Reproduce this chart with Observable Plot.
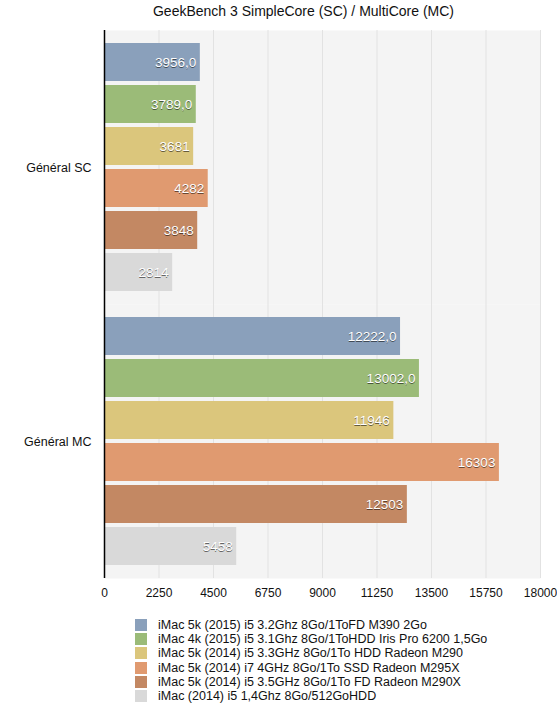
<!DOCTYPE html>
<html>
<head>
<meta charset="utf-8">
<script src="https://cdn.jsdelivr.net/npm/d3@7"></script>
<script src="https://cdn.jsdelivr.net/npm/@observablehq/plot@0.6"></script>
<style>
  body { margin: 0; background: #fff; font-family: "Helvetica Neue", Helvetica, "Liberation Sans", Arial, sans-serif; }
  #title { height: 24px; line-height: 22px; font-size: 14px; color: #111; text-align: center; padding-left: 50px; box-sizing: border-box; }
  #chart svg { display: block; font-family: "Helvetica Neue", Helvetica, "Liberation Sans", Arial, sans-serif; }
  #legend { margin-left: 135px; margin-top: 14px; font-size: 12.5px; color: #111; }
  .row { display: flex; align-items: center; height: 14.2px; }
  .sw { width: 12px; height: 12px; margin-right: 11px; }
</style>
</head>
<body>
<div id="title">GeekBench 3 SimpleCore (SC) / MultiCore (MC)</div>
<div id="chart"></div>
<div id="legend"></div>
<script>
const groups = ["Général SC", "Général MC"];
const series = [
  "iMac 5k (2015) i5 3.2Ghz 8Go/1ToFD M390 2Go",
  "iMac 4k (2015) i5 3.1Ghz 8Go/1ToHDD Iris Pro 6200 1,5Go",
  "iMac 5k (2014) i5 3.3GHz 8Go/1To HDD Radeon M290",
  "iMac 5k (2014) i7 4GHz 8Go/1To SSD Radeon M295X",
  "iMac 5k (2014) i5 3.5GHz 8Go/1To FD Radeon M290X",
  "iMac (2014) i5 1,4Ghz 8Go/512GoHDD"
];
const scValues = [3956, 3789, 3681, 4282, 3848, 2814];
const mcValues = [12222, 13002, 11946, 16303, 12503, 5458];
const showDecimal = [true, true, false, false, false, false];
const colors = ["#8aa0bb", "#9bbb78", "#dbc67c", "#e09a70", "#c38863", "#d9d9d9"];
const xTicks = [0, 2250, 4500, 6750, 9000, 11250, 13500, 15750, 18000];

const data = [];
groups.forEach((g, gi) => {
  const vals = gi === 0 ? scValues : mcValues;
  series.forEach((s, i) => {
    const v = vals[i];
    data.push({
      group: g, series: s, value: v,
      label: showDecimal[i] ? d3.format(".1f")(v).replace(".", ",") : String(v)
    });
  });
});

const chart = Plot.plot({
  width: 557,
  height: 580,
  marginTop: 6,
  marginBottom: 26,
  marginLeft: 104,
  marginRight: 17,
  style: { fontSize: "12px", color: "#111" },
  x: { domain: [0, 18000], ticks: xTicks, label: null },
  y: { domain: series, paddingInner: 0.1, paddingOuter: 0.29, axis: null },
  fy: { domain: groups, padding: 0, label: null },
  color: { domain: series, range: colors },
  marks: [
    Plot.frame({ fill: "#f4f4f4", stroke: null }),
    Plot.gridX(xTicks, { stroke: "#e2e2e2", strokeOpacity: 1 }),
    Plot.barX(data, { x: "value", y: "series", fy: "group", fill: "series" }),
    Plot.text(data, { x: "value", y: "series", fy: "group", text: "label", textAnchor: "end", dx: -4, dy: 1, fill: "#000", fillOpacity: 0.55, fontSize: 13.5 }),
    Plot.text(data, { x: "value", y: "series", fy: "group", text: "label", textAnchor: "end", dx: -4, fill: "white", fontSize: 13.5 }),
    Plot.ruleX([0], { stroke: "#000", strokeWidth: 1.5 }),
    Plot.axisX(xTicks, { tickSize: 0, tickPadding: 10, tickFormat: d => String(d), fontSize: 12 }),
    Plot.axisFy({ anchor: "left", tickSize: 0, tickPadding: 13, label: null, fontSize: 12.5 })
  ]
});
document.getElementById("chart").appendChild(chart);

const legend = document.getElementById("legend");
series.forEach((s, i) => {
  const row = document.createElement("div");
  row.className = "row";
  const sw = document.createElement("div");
  sw.className = "sw";
  sw.style.background = colors[i];
  const t = document.createElement("span");
  t.textContent = s;
  row.appendChild(sw);
  row.appendChild(t);
  legend.appendChild(row);
});
</script>
</body>
</html>
